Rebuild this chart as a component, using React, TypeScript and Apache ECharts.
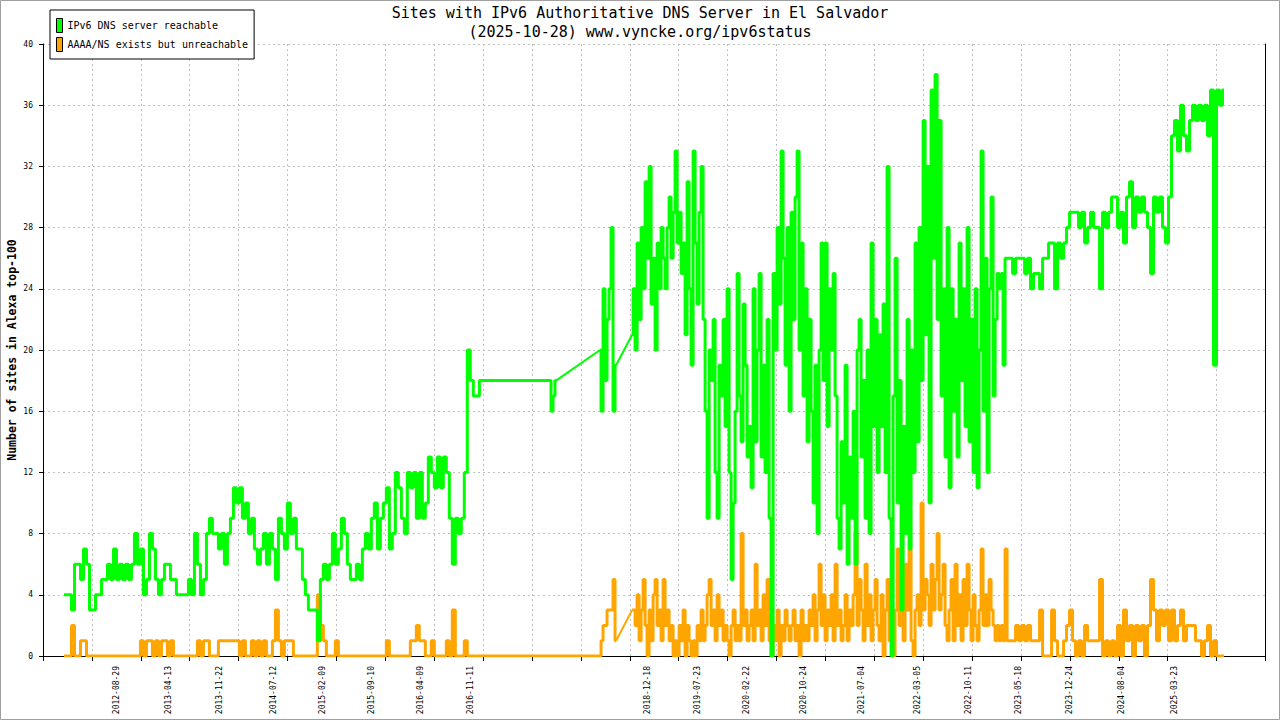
import React, { useEffect, useRef } from "react";
import * as echarts from "echarts";

const AXIS_START = "2011-10-17";
const AXIS_DAYS = 5300;
const TICK_DAYS = 212;

const tickLabels = [
  "2012-08-29", "2013-04-13", "2013-11-22", "2014-07-12", "2015-02-09", "2015-09-10",
  "2016-04-09", "2016-11-11", "2018-12-18", "2019-07-23", "2020-02-22", "2020-10-24",
  "2021-07-04", "2022-03-05", "2022-10-11", "2023-05-18", "2023-12-24", "2024-08-04",
  "2025-03-23",
];

const reachableName = "IPv6 DNS server reachable";
const unreachableName = "AAAA/NS exists but unreachable";

// reachable, from 2012-01-16, every 13 days
const reachableEarly = [
  4, 4, 4, 3, 6, 6, 5, 7, 6, 3,
  3, 4, 4, 5, 5, 6, 5, 7, 5, 6,
  5, 6, 5, 6, 8, 6, 7, 4, 5, 8,
  7, 5, 4, 5, 6, 6, 5, 5, 4, 4,
  4, 4, 5, 4, 8, 6, 4, 5, 8, 9,
  8, 8, 7, 8, 6, 8, 9, 11, 10, 11,
  9, 10, 8, 9, 7, 6, 7, 8, 6, 8,
  7, 5, 9, 8, 7, 10, 8, 9, 7, 7,
  5, 4, 3, 3, 3, 1, 5, 6, 5, 6,
  8, 6, 7, 9, 8, 6, 5, 5, 6, 5,
  7, 8, 7, 9, 10, 7, 9, 10, 11, 7,
  8, 12, 11, 9, 8, 12, 11, 12, 9, 12,
  9, 10, 13, 12, 11, 13, 11, 13, 12, 9,
  6, 9, 8, 9, 12, 20, 18, 17, 17,
];
// reachable, sparse observations 2016-12 .. 2017-11
const reachablePlateauDates = ["2016-12-28", "2017-10-23", "2017-11-01", "2017-11-09", "2017-11-18"];
const reachablePlateau = [18, 18, 16, 17, 18];
// reachable, from 2018-05-28, every 8.67 days
const reachable2018 = [20, 16, 24, 18, 22, 24, 28, 16, 19];
// reachable, from 2018-10-14, every 8.67 days
const reachableDense = [
  21, 24, 20, 27, 22, 28, 24, 31, 26, 32,
  23, 26, 20, 27, 24, 28, 26, 24, 28, 30,
  26, 29, 33, 27, 29, 25, 27, 21, 31, 24,
  19, 33, 27, 23, 29, 32, 22, 16, 9, 20,
  18, 22, 12, 9, 19, 17, 22, 15, 24, 12,
  5, 10, 16, 25, 17, 14, 23, 19, 13, 15,
  11, 24, 14, 20, 25, 13, 19, 12, 22, 9,
  0, 25, 20, 28, 23, 33, 26, 19, 28, 16,
  29, 22, 30, 33, 20, 27, 17, 24, 14, 22,
  16, 10, 19, 8, 20, 27, 18, 27, 15, 24,
  20, 25, 17, 9, 7, 14, 10, 19, 6, 13,
  9, 16, 6, 20, 22, 13, 18, 9, 20, 8,
  27, 15, 22, 12, 21, 15, 23, 12, 32, 9,
  0, 17, 26, 10, 18, 3, 15, 8, 22, 7,
  20, 12, 27, 14, 28, 18, 35, 21, 32, 10,
  37, 26, 38, 22, 35, 17, 24, 13, 28, 11,
  24, 16, 22, 13, 27, 18, 24, 15, 28, 14,
  22, 12, 24, 11, 20, 33, 16, 26, 12, 24,
  30, 17, 22, 25, 24, 25, 19, 26,
];
// reachable, from 2023-04-01, every 13 days
const reachableLate = [
  26, 26, 25, 26, 26, 26, 25, 26, 24, 25,
  25, 24, 26, 26, 27, 27, 24, 27, 26, 27,
  28, 29, 29, 29, 28, 29, 27, 28, 29, 28,
  28, 24, 29, 28, 29, 30, 30, 28, 29, 27,
  30, 31, 28, 30, 29, 30, 29, 28, 25, 30,
  29, 30, 28, 27, 30, 34, 35, 33, 36, 34,
  33, 35, 36, 35, 36, 35, 36, 34, 37, 19,
  37, 36, 37,
];

// unreachable, from 2012-01-16, every 13 days
const unreachableEarly = [
  0, 0, 0, 2, 0, 0, 1, 1, 0, 0,
  0, 0, 0, 0, 0, 0, 0, 0, 0, 0,
  0, 0, 0, 0, 0, 0, 1, 0, 1, 1,
  0, 1, 0, 1, 1, 0, 1, 0, 0, 0,
  0, 0, 0, 0, 0, 1, 0, 1, 1, 0,
  0, 0, 1, 1, 1, 1, 1, 1, 1, 0,
  1, 0, 0, 1, 0, 1, 0, 1, 0, 0,
  1, 3, 1, 0, 1, 1, 1, 0, 0, 0,
  0, 0, 0, 0, 0, 4, 2, 1, 0, 0,
  0, 1, 0, 0, 0, 0, 0, 0, 0, 0,
  0, 0, 0, 0, 0, 0, 0, 0, 1, 0,
  0, 0, 0, 0, 0, 0, 1, 1, 2, 1,
  1, 0, 0, 1, 0, 0, 0, 0, 1, 0,
  3, 0, 0, 0, 1, 0, 0, 0, 0,
];
// unreachable, from 2018-05-28, every 8.67 days
const unreachable2018 = [0, 1, 2, 2, 3, 3, 3, 5, 1];
// unreachable, from 2018-10-14, every 8.67 days
const unreachableDense = [
  3, 3, 2, 4, 1, 3, 5, 2, 0, 3,
  1, 4, 5, 2, 3, 1, 5, 2, 3, 1,
  2, 0, 1, 0, 2, 1, 3, 0, 2, 1,
  0, 1, 0, 2, 1, 3, 1, 2, 4, 5,
  2, 3, 1, 4, 2, 3, 1, 2, 1, 0,
  2, 3, 1, 2, 1, 8, 2, 3, 1, 2,
  3, 1, 6, 2, 3, 1, 4, 2, 5, 1,
  0, 2, 1, 3, 0, 2, 1, 3, 2, 1,
  2, 3, 1, 2, 0, 3, 1, 2, 1, 3,
  2, 4, 1, 3, 6, 2, 4, 1, 3, 2,
  4, 1, 6, 2, 3, 1, 2, 4, 1, 3,
  2, 4, 8, 2, 5, 3, 1, 6, 2, 4,
  1, 3, 5, 2, 1, 4, 0, 3, 5, 1,
  2, 0, 3, 7, 2, 4, 1, 6, 3, 7,
  1, 0, 3, 4, 2, 10, 3, 5, 4, 2,
  6, 3, 5, 8, 3, 4, 6, 2, 1, 3,
  5, 1, 6, 2, 4, 1, 5, 2, 6, 3,
  1, 4, 2, 1, 3, 7, 2, 4, 2, 5,
  3, 2, 1, 2, 1, 2, 1, 7,
];
// unreachable, from 2023-04-01, every 13 days
const unreachableLate = [
  1, 1, 1, 2, 1, 2, 1, 2, 1, 1,
  1, 3, 0, 0, 0, 3, 1, 0, 0, 1,
  2, 3, 1, 0, 1, 0, 2, 1, 1, 1,
  1, 5, 0, 1, 0, 1, 0, 2, 0, 3,
  1, 2, 0, 2, 1, 2, 0, 2, 5, 3,
  1, 3, 2, 3, 1, 3, 1, 2, 3, 1,
  2, 2, 2, 1, 1, 0, 1, 2, 0, 1,
  0, 0, 0,
];

const DAY = 86400000;
const t0 = Date.parse(AXIS_START);
const dayOf = (d: string) => (Date.parse(d) - t0) / DAY;
const seg = (start: string, step: number, values: number[]) => {
  const s = dayOf(start);
  return values.map((v, i) => [s + i * step, v]);
};
const pairs = (dates: string[], values: number[]) => dates.map((d, i) => [dayOf(d), values[i]]);
const fmt = (v: number) => new Date(t0 + Math.round(v) * DAY).toISOString().slice(0, 10);
const last = (a: any[]) => a[a.length - 1];
// a gap in the observations between two runs of points
const gap = (before: any[], after: any[]) => [
  [last(before)[0] + 0.01, null],
  [after[0][0] - 0.01, null],
];

const gEarly = seg("2012-01-16", 13, reachableEarly);
const gPlateau = pairs(reachablePlateauDates, reachablePlateau);
const g2018 = seg("2018-05-28", 8.67, reachable2018);
const gDense = seg("2018-10-14", 8.67, reachableDense);
const gLate = seg("2023-04-01", 13, reachableLate);

const oEarly = seg("2012-01-16", 13, unreachableEarly);
const o2018 = seg("2018-05-28", 8.67, unreachable2018);
const oDense = seg("2018-10-14", 8.67, unreachableDense);
const oLate = seg("2023-04-01", 13, unreachableLate);

// daily observations (drawn as steps), with no-data gaps bridged by straight lines
const reachableSteps = [
  ...gEarly, ...gPlateau, ...gap(gPlateau, g2018), ...g2018,
  ...gap(g2018, gDense), ...gDense, ...gLate,
];
const reachableGaps = [last(gPlateau), g2018[0], [dayOf("2018-08-01"), null], last(g2018), gDense[0]];
const unreachableSteps = [
  ...oEarly, ...o2018, ...gap(o2018, oDense), ...oDense, ...oLate,
];
const unreachableGaps = [last(o2018), oDense[0]];

const mono = "'DejaVu Sans Mono', 'Liberation Mono', monospace";
const GREEN = "#00ff00";
const ORANGE = "#ffa500";

const lineSeries = (name: string, data: any[], color: string, z: number, step: any, width: number) => ({
  name,
  type: "line",
  data,
  step,
  showSymbol: false,
  symbol: "none",
  connectNulls: false,
  color,
  itemStyle: { color },
  lineStyle: { color, width },
  silent: true,
  z,
});

export default function App() {
  const ref = useRef<HTMLDivElement>(null);
  useEffect(() => {
    if (!ref.current) return;
    const chart = echarts.init(ref.current, undefined, { renderer: "svg" });
    const grid = { color: "#c0c0c0", type: [2, 3] as any, width: 1 };
    chart.setOption({
      animation: false,
      backgroundColor: "#ffffff",
      textStyle: { fontFamily: mono },
      grid: { left: 43, right: 14.5, top: 44, bottom: 64, containLabel: false },
      legend: {
        data: [
          { name: reachableName, icon: "rect" },
          { name: unreachableName, icon: "rect" },
        ],
        orient: "vertical",
        left: 50,
        top: 10,
        itemWidth: 6,
        itemHeight: 14,
        itemGap: 4,
        padding: [8, 6, 7, 6],
        backgroundColor: "#ffffff",
        borderColor: "#000000",
        borderWidth: 1,
        selectedMode: false,
        itemStyle: { borderColor: "#000000", borderWidth: 1 },
        textStyle: { fontSize: 10, fontFamily: mono, color: "#000" },
      },
      xAxis: {
        type: "value",
        min: 0,
        max: AXIS_DAYS,
        interval: TICK_DAYS,
        axisLine: { show: true, onZero: false, lineStyle: { color: "#000", width: 1 } },
        axisTick: { show: true, inside: false, length: 5, lineStyle: { color: "#000", width: 1 } },
        axisLabel: {
          customValues: tickLabels.map(dayOf),
          rotate: 90,
          margin: 10,
          fontSize: 8,
          fontFamily: mono,
          color: "#000",
          formatter: (v: number) => fmt(v),
        },
        splitLine: { show: true, lineStyle: grid },
      },
      yAxis: [
        {
          type: "value",
          min: 0,
          max: 40,
          interval: 4,
          axisLine: { show: true, lineStyle: { color: "#000", width: 1 } },
          axisTick: { show: true, inside: false, length: 4, lineStyle: { color: "#000" } },
          axisLabel: { fontSize: 8, fontFamily: mono, color: "#000", margin: 10 },
          splitLine: { show: true, lineStyle: grid },
        },
        {
          type: "value",
          position: "right",
          min: 0,
          max: 40,
          interval: 4,
          axisLine: { show: true, lineStyle: { color: "#000", width: 1 } },
          axisTick: { show: false },
          axisLabel: { show: false },
          splitLine: { show: false },
        },
      ],
      graphic: [
        {
          type: "text",
          x: 640,
          y: 13,
          style: {
            text: "Sites with IPv6 Authoritative DNS Server in El Salvador",
            fontSize: 15,
            fontFamily: mono,
            fill: "#000",
            align: "center",
            verticalAlign: "middle",
          },
        },
        {
          type: "text",
          x: 640,
          y: 32,
          style: {
            text: "(2025-10-28) www.vyncke.org/ipv6status",
            fontSize: 15,
            fontFamily: mono,
            fill: "#000",
            align: "center",
            verticalAlign: "middle",
          },
        },
        {
          type: "text",
          x: 12,
          y: 350,
          rotation: Math.PI / 2,
          style: {
            text: "Number of sites in Alexa top-100",
            fontSize: 11.5,
            fontWeight: "bold",
            fontFamily: mono,
            fill: "#000",
            align: "center",
            verticalAlign: "middle",
          },
        },
        {
          type: "rect",
          silent: true,
          z: 100,
          shape: { x: 0.5, y: 0.5, width: 1279, height: 719 },
          style: { fill: "none", stroke: "#a0a0a0", lineWidth: 1 },
        },
      ],
      series: [
        lineSeries(unreachableName, unreachableSteps, ORANGE, 2, "middle", 3),
        lineSeries(unreachableName, unreachableGaps, ORANGE, 2, false, 2),
        lineSeries(reachableName, reachableSteps, GREEN, 3, "middle", 3),
        lineSeries(reachableName, reachableGaps, GREEN, 3, false, 2),
      ],
    });
    return () => chart.dispose();
  }, []);
  return (
    <div
      ref={ref}
      style={{ position: "fixed", left: 0, top: 0, width: 1280, height: 720, background: "#fff" }}
    />
  );
}
